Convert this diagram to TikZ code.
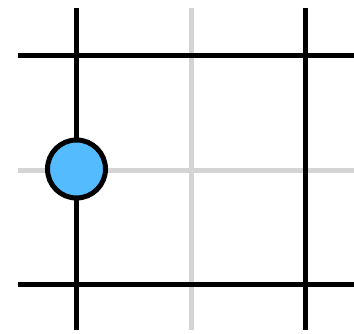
\documentclass[tikz,border=0pt]{standalone}
\usepackage{tikz}
\usetikzlibrary{positioning}
\definecolor{stoneblue}{HTML}{55BBFF}
\definecolor{gridgray}{HTML}{D4D4D4}

\begin{document}
\begin{tikzpicture}[x=1pt,y=1pt,
 minor/.style={draw=gridgray,line width=5pt},
 major/.style={draw=black,line width=5pt},
 stone/.style={circle,draw=black,line width=5pt,fill=stoneblue,minimum size=58pt,inner sep=0pt}]
\useasboundingbox (0,0) rectangle (354,333);
\draw[minor] (191,3) -- (191,325);
\draw[minor] (18,163) -- (354,163);
\draw[major] (76,3) -- (76,325);
\draw[major] (305.5,3) -- (305.5,325);
\draw[major] (18,278) -- (354,278);
\draw[major] (18,48.5) -- (354,48.5);
\node[stone] (s) at (76.5,164) {};
\end{tikzpicture}
\end{document}
